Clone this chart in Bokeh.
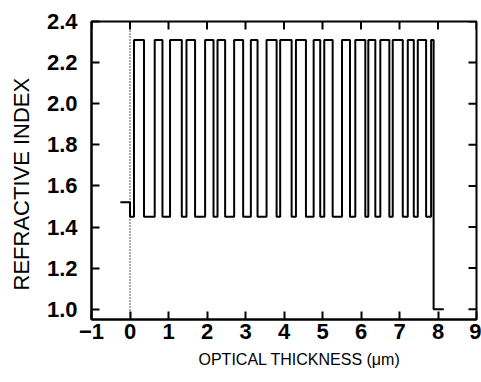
import math
from bokeh.plotting import figure
from bokeh.models import FixedTicker, Range1d, Title
from bokeh.embed import file_html
from bokeh.resources import INLINE

# ---- data ----
n_substrate = 1.52
n_low = 1.45
n_high = 2.31
n_air = 1.0
substrate_start = -0.25
stack_start = 0.0
# high-index layer boundaries (optical thickness, um)
high_start = [0.104, 0.642, 1.040, 1.467, 1.951, 2.273, 2.705, 3.139, 3.547, 3.901,
              4.310, 4.770, 5.046, 5.506, 5.852, 6.190, 6.502, 6.824, 7.215, 7.475, 7.821]
high_end = [0.364, 0.843, 1.345, 1.690, 2.169, 2.471, 2.939, 3.313, 3.808, 4.198,
            4.570, 4.941, 5.264, 5.714, 6.112, 6.372, 6.736, 7.085, 7.371, 7.691, 7.886]
air_end = 8.15
x_ticks = [-1, 0, 1, 2, 3, 4, 5, 6, 7, 8, 9]
y_ticks = [1.0, 1.2, 1.4, 1.6, 1.8, 2.0, 2.2, 2.4]
x_min, x_max = -1, 9
y_min, y_max = 0.95, 2.4
x_title = "OPTICAL THICKNESS (\u03bcm)"
y_title = "REFRACTIVE INDEX"

# ---- build step profile ----
xs = [substrate_start, stack_start, stack_start]
ys = [n_substrate, n_substrate, n_low]
for i, (a, b) in enumerate(zip(high_start, high_end)):
    xs += [a, a, b]
    ys += [n_low, n_high, n_high]
    if i < len(high_start) - 1:
        xs += [b]
        ys += [n_low]
xs += [high_end[-1], air_end]
ys += [n_air, n_air]

FONT = "Liberation Sans"

p = figure(width=481, height=382, output_backend="svg", toolbar_location=None,
           x_range=Range1d(x_min, x_max), y_range=Range1d(y_min, y_max),
           min_border_left=91, min_border_right=5, min_border_top=21, min_border_bottom=63)
p.grid.visible = False
p.outline_line_color = "black"
p.outline_line_width = 2
p.background_fill_color = "white"

p.line(xs, ys, line_color="black", line_width=2)
p.line([stack_start, stack_start], [y_min, y_max], line_color="black", line_width=1.3, line_dash="1 2")

# inward ticks on top and right edges
p.ray(x=x_ticks, y=[y_max] * len(x_ticks), length=8, length_units="screen",
      angle=-math.pi / 2, line_color="black", line_width=2)
p.ray(x=[x_max] * len(y_ticks), y=y_ticks, length=8, length_units="screen",
      angle=math.pi, line_color="black", line_width=2)

def style(ax):
    ax.axis_line_color = "black"
    ax.axis_line_width = 2
    ax.major_tick_in = 8
    ax.major_tick_out = 0
    ax.major_tick_line_width = 2
    ax.minor_tick_line_color = None
    ax.major_label_text_font = FONT
    ax.major_label_text_font_size = "22px"
    ax.major_label_text_font_style = "bold"
    ax.major_label_text_color = "black"

xa = p.xaxis[0]
xa.ticker = FixedTicker(ticks=x_ticks)
xa.major_label_overrides = {-1: "\u22121"}
style(xa)
xa.major_label_standoff = 4

ya = p.yaxis[0]
ya.ticker = FixedTicker(ticks=y_ticks)
ya.major_label_overrides = {t: "%.1f" % t for t in y_ticks}
style(ya)
ya.major_label_standoff = 14

# axis titles
p.add_layout(Title(text=x_title, align="left", offset=107, standoff=14,
                   text_font=FONT, text_font_size="16px", text_font_style="normal",
                   text_color="black"), "below")
p.add_layout(Title(text=y_title, align="left", offset=29, standoff=16, vertical_align="top",
                   text_font=FONT, text_font_size="22px", text_font_style="normal",
                   text_color="black"), "left")

open("out.html", "w").write(file_html(p, INLINE))
